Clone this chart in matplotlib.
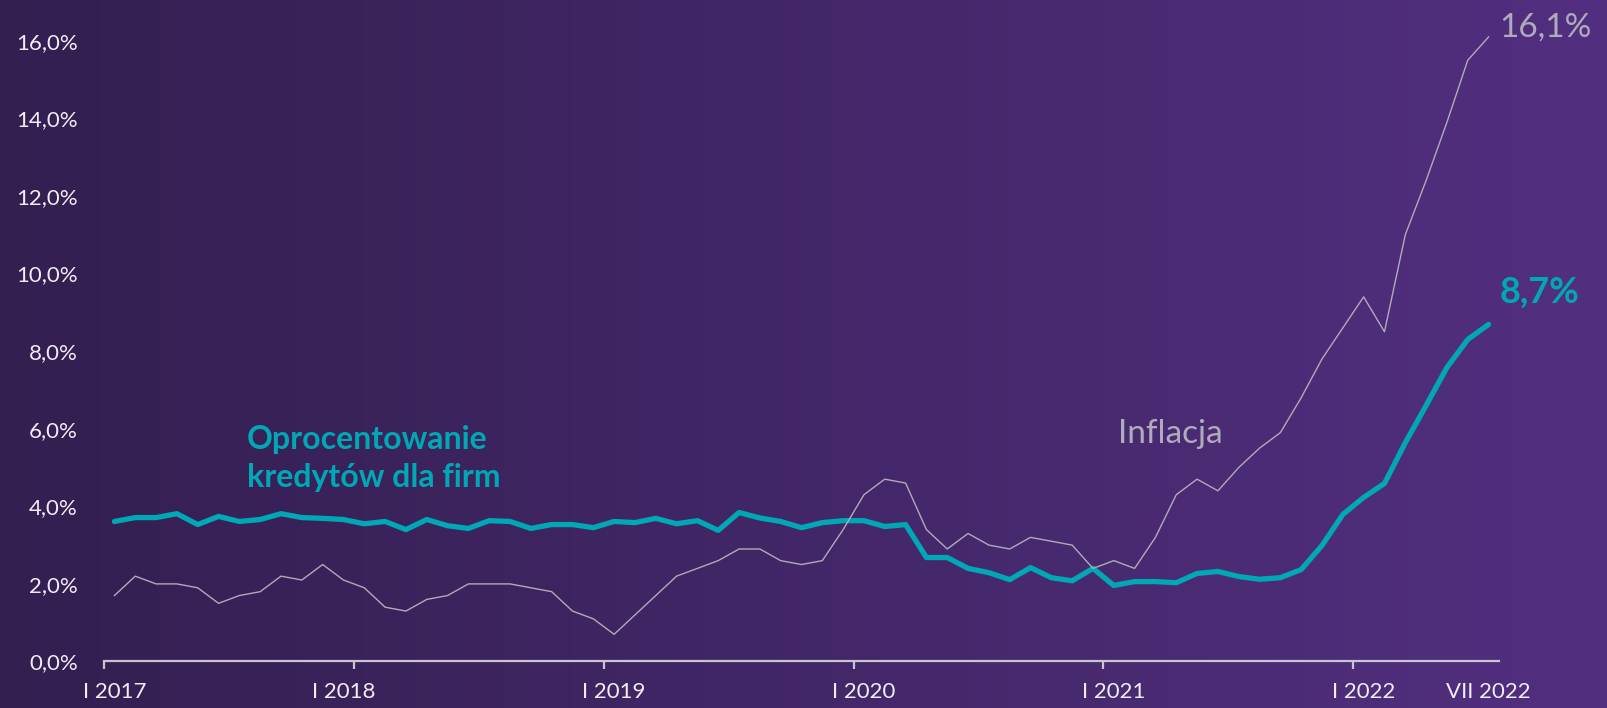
import numpy as np
import matplotlib.pyplot as plt
from matplotlib.ticker import FuncFormatter

# --- Dane (miesięcznie, I 2017 - VII 2022) ---
inflacja = [
    1.7, 2.2, 2.0, 2.0, 1.9, 1.5, 1.7, 1.8, 2.2, 2.1, 2.5, 2.1,   # 2017
    1.9, 1.4, 1.3, 1.6, 1.7, 2.0, 2.0, 2.0, 1.9, 1.8, 1.3, 1.1,   # 2018
    0.7, 1.2, 1.7, 2.2, 2.4, 2.6, 2.9, 2.9, 2.6, 2.5, 2.6, 3.4,   # 2019
    4.3, 4.7, 4.6, 3.4, 2.9, 3.3, 3.0, 2.9, 3.2, 3.1, 3.0, 2.4,   # 2020
    2.6, 2.4, 3.2, 4.3, 4.7, 4.4, 5.0, 5.5, 5.9, 6.8, 7.8, 8.6,   # 2021
    9.4, 8.5, 11.0, 12.4, 13.9, 15.5, 16.1,                       # 2022
]
kredyty = [
    3.61, 3.71, 3.71, 3.81, 3.53, 3.74, 3.61, 3.66, 3.81, 3.71, 3.69, 3.66,
    3.55, 3.61, 3.40, 3.66, 3.50, 3.43, 3.63, 3.61, 3.43, 3.53, 3.53, 3.45,
    3.61, 3.58, 3.69, 3.55, 3.63, 3.38, 3.84, 3.70, 3.61, 3.45, 3.58, 3.63,
    3.63, 3.48, 3.53, 2.68, 2.68, 2.40, 2.29, 2.11, 2.42, 2.16, 2.08, 2.40,
    1.96, 2.06, 2.06, 2.03, 2.27, 2.32, 2.19, 2.12, 2.16, 2.37, 2.99, 3.79,
    4.23, 4.59, 5.64, 6.60, 7.58, 8.30, 8.69,
]
etykiety_x = ["I 2017", "I 2018", "I 2019", "I 2020", "I 2021", "I 2022", "VII 2022"]
pozycje_etykiet = [0, 11, 24, 36, 48, 60, 66]   # indeks miesiąca pod etykietą
granice_lat = [-0.5, 11.5, 23.5, 35.5, 47.5, 59.5]
yticks = [0, 2, 4, 6, 8, 10, 12, 14, 16]

TEAL = "#00a8b5"
SZARY = "#b0abba"
BIALY = "#f0edf5"

plt.rcParams["font.family"] = ["Lato", "DejaVu Sans"]

fig = plt.figure(figsize=(16.08, 7.08), dpi=100)

# tło z gradientem
bg = fig.add_axes([0, 0, 1, 1], zorder=-10)
lewy = np.array([51, 31, 80]) / 255
prawy = np.array([82, 47, 128]) / 255
t = np.linspace(0, 1, 256)[None, :, None]
grad = lewy + (prawy - lewy) * t
bg.imshow(grad, aspect="auto", extent=[0, 1, 0, 1])
bg.axis("off")

ax = fig.add_axes([0.0647, 0.0657, 0.8675, 0.904])
ax.patch.set_alpha(0)

x = np.arange(len(kredyty))
ax.plot(x, kredyty, color=TEAL, lw=3.8, solid_capstyle="round",
        solid_joinstyle="round", zorder=3)
ax.plot(x, inflacja, color=SZARY, lw=1.0, zorder=4)

ax.set_xlim(-0.5, len(kredyty) - 0.5)
ax.set_ylim(0, 16.5)

for s in ["top", "right", "left"]:
    ax.spines[s].set_visible(False)
ax.spines["bottom"].set_color("#c9c4d2")
ax.spines["bottom"].set_linewidth(1.6)

ax.set_yticks(yticks)
ax.yaxis.set_major_formatter(FuncFormatter(lambda v, p: f"{v:.1f}%".replace(".", ",")))
ax.tick_params(axis="y", length=0, pad=19, labelsize=16, labelcolor=BIALY)

ax.set_xticks(granice_lat)
ax.set_xticklabels([])
ax.tick_params(axis="x", which="major", direction="out", length=6,
               width=1.6, color="#c9c4d2")
ax.set_xticks(pozycje_etykiet, minor=True)
ax.set_xticklabels(etykiety_x, minor=True)
ax.tick_params(axis="x", which="minor", length=0, pad=15,
               labelsize=16, labelcolor=BIALY)

# opisy serii
ax.annotate("16,1%", xy=(x[-1], inflacja[-1]), xytext=(8, 7),
            textcoords="offset points", ha="left", va="center",
            fontsize=24, color=SZARY)
ax.annotate("8,7%", xy=(x[-1], kredyty[-1]), xytext=(8, 23),
            textcoords="offset points", ha="left", va="center",
            fontsize=26, color=TEAL, fontweight="bold")
ax.text(48.2, 5.62, "Inflacja", ha="left", va="baseline",
        fontsize=24, color=SZARY)
ax.text(6.35, 4.5, "Oprocentowanie\nkredytów dla firm", ha="left",
        va="baseline", fontsize=23, color=TEAL, fontweight="bold",
        linespacing=1.38)

fig.savefig("out.png", dpi=100)
